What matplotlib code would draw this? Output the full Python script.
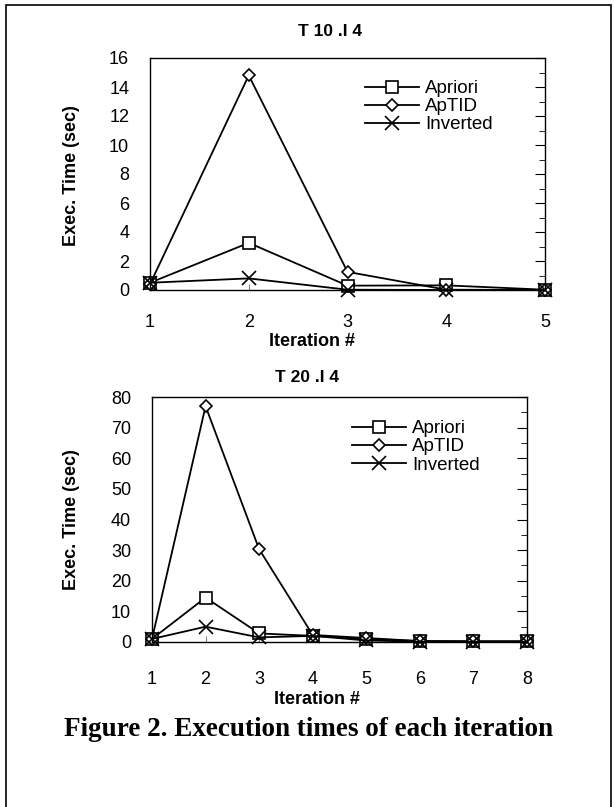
import matplotlib.pyplot as plt
from matplotlib.ticker import MultipleLocator
from matplotlib.patches import Rectangle

plt.rcParams['font.family'] = ['Liberation Sans', 'DejaVu Sans']

iter_a = [1, 2, 3, 4, 5]
apriori_a = [0.5, 3.25, 0.3, 0.32, 0.02]
aptid_a = [0.4, 14.8, 1.25, 0.02, 0.0]
inverted_a = [0.5, 0.8, 0.02, 0.0, 0.0]

iter_b = [1, 2, 3, 4, 5, 6, 7, 8]
apriori_b = [1.0, 14.5, 2.8, 2.0, 1.0, 0.3, 0.2, 0.2]
aptid_b = [1.0, 77.0, 30.3, 2.3, 1.3, 0.3, 0.2, 0.2]
inverted_b = [1.0, 5.0, 1.5, 2.0, 0.5, 0.1, 0.1, 0.1]

W, H = 614, 807
fig = plt.figure(figsize=(W / 100, H / 100), dpi=100)

# page frame
fig.add_artist(Rectangle((6 / W, -0.01), 605 / W, 1 - 5 / H + 0.01,
                         transform=fig.transFigure, fill=False, lw=1.2, ec='black'))


def panel(rect, xs, ap, at, inv, ymax, ymaj, ymin, leg_x, xpad):
    ax = fig.add_axes(rect)
    mk = dict(color='black', lw=1.3, mfc='white', mec='black', mew=1.2)
    ax.plot(xs, ap, marker='s', ms=9, label='Apriori', **mk)
    ax.plot(xs, at, marker='D', ms=6, label='ApTID', **mk)
    ax.plot(xs, inv, marker='x', ms=10, label='Inverted', **mk)
    ax.set_xlim(xs[0], xs[-1])
    ax.set_ylim(0, ymax)
    ax.set_xticks(xs)
    ax.yaxis.set_major_locator(MultipleLocator(ymaj))
    ax.yaxis.set_minor_locator(MultipleLocator(ymin))
    ax.tick_params(axis='y', which='both', left=False, right=True, direction='in',
                   labelsize=13, pad=15)
    ax.tick_params(axis='y', which='major', length=7)
    ax.tick_params(axis='y', which='minor', length=4)
    ax.tick_params(axis='x', direction='in', length=4, color='0.5', labelsize=13, pad=xpad)
    for s in ax.spines.values():
        s.set_linewidth(1.0)
    for ln in ax.lines:
        ln.set_clip_on(False)
    ax.legend(loc='upper left', bbox_to_anchor=(leg_x, 0.905), frameon=False, fontsize=13.5,
              handlelength=2.9, handletextpad=0.3, labelspacing=0.05, borderpad=0,
              borderaxespad=0)
    return ax


ax1 = panel([150 / W, 1 - 290 / H, 395 / W, 232 / H], iter_a,
            apriori_a, aptid_a, inverted_a, 16, 2, 1, 0.544, 17)
ax2 = panel([152 / W, 1 - 642 / H, 375 / W, 245 / H], iter_b,
            apriori_b, aptid_b, inverted_b, 80, 10, 5, 0.533, 21)

fig.text(330 / W, 1 - 31 / H, 'T 10 .I 4', ha='center', va='center', fontsize=12.5, fontweight='bold')
fig.text(307 / W, 1 - 377 / H, 'T 20 .I 4', ha='center', va='center', fontsize=12.5, fontweight='bold')
fig.text(312 / W, 1 - 341 / H, 'Iteration #', ha='center', va='center', fontsize=13, fontweight='bold')
fig.text(317 / W, 1 - 699 / H, 'Iteration #', ha='center', va='center', fontsize=13, fontweight='bold')
fig.text(72 / W, 1 - 176 / H, 'Exec. Time (sec)', ha='center', va='center', rotation=90,
         fontsize=13, fontweight='bold')
fig.text(72 / W, 1 - 520 / H, 'Exec. Time (sec)', ha='center', va='center', rotation=90,
         fontsize=13, fontweight='bold')
fig.text(309 / W, 1 - 729 / H, 'Figure 2. Execution times of each iteration', ha='center',
         va='center', fontsize=19.5, fontweight='bold', family='Liberation Serif')

fig.savefig('out.png', dpi=100)
